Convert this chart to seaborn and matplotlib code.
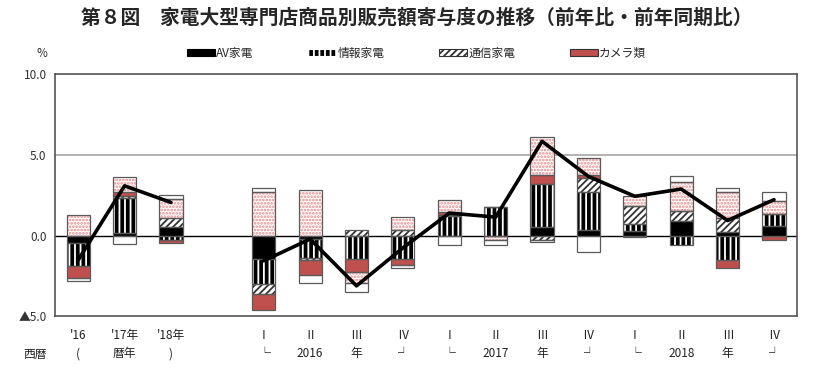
#!/usr/bin/env python3

import numpy as np
import pandas as pd
import seaborn as sns
from matplotlib import pyplot as plt
from matplotlib.patches import Patch


# slot 3 is the gap between the annual and quarterly groups
slots = [0, 1, 2, 4, 5, 6, 7, 8, 9, 10, 11, 12, 13, 14, 15]
row1_labels = ["'16", "'17年", "'18年", "",
               "Ⅰ", "Ⅱ", "Ⅲ", "Ⅳ", "Ⅰ", "Ⅱ", "Ⅲ", "Ⅳ", "Ⅰ", "Ⅱ", "Ⅲ", "Ⅳ"]
row2_labels = ["(", "暦年", ")", "",
               "└", "2016", "年", "┘", "└", "2017", "年", "┘", "└", "2018", "年", "┘"]

av = [-0.45, 0.2, 0.52, -1.45, -0.2, 0.0, 0.0, 0.0, 0.0, 0.52, 0.37, 0.31, 0.93, 0.25, 0.62]
info = [-1.39, 2.14, -0.28, -1.55, -1.15, -1.45, -1.45, 1.2, 1.78, 2.71, 2.34, 0.41, -0.58, -1.49, 0.73]
comm = [0.0, 0.1, 0.58, -0.62, -0.14, 0.37, 0.35, 0.12, 0.0, -0.25, 0.87, 1.1, 0.62, 0.83, 0.0]
camera = [-0.79, 0.25, -0.17, -0.98, -0.95, -0.79, -0.37, 0.13, 0.0, 0.52, 0.17, 0.0, 0.0, -0.5, -0.25]
living = [1.26, 0.97, 1.18, 2.69, 2.86, -0.7, 0.79, 0.75, -0.25, 2.38, 1.05, 0.66, 1.76, 1.61, 0.78]
other = [-0.17, -0.48, 0.22, 0.25, -0.46, -0.54, -0.15, -0.56, -0.31, -0.15, -1.01, -0.1, 0.37, 0.25, 0.56]
total = [-1.5, 3.1, 2.07, -1.55, -0.2, -3.1, -0.75, 1.41, 1.16, 5.86, 3.68, 2.45, 2.9, 0.95, 2.24]

series = [
    # name, values, face, hatch, hatch colour
    ("AV家電", av, "black", "", "black"),
    ("情報家電", info, "black", "|||", "white"),
    ("通信家電", comm, "white", "/////", "#333333"),
    ("カメラ類", camera, "#c0504d", "", "#c0504d"),
    ("生活家電", living, "white", ".....", "#eb8a8a"),
    ("その他", other, "white", "", "white"),
]

title = "第８図　家電大型専門店商品別販売額寄与度の推移（前年比・前年同期比）"
fonts = ["Noto Sans CJK JP", "DejaVu Sans"]


def draw_stacks(ax, width=0.5):
    pos_base = np.zeros(len(slots))
    neg_base = np.zeros(len(slots))
    for name, vals, face, hatch, hcol in series:
        vals = np.array(vals)
        bottom = np.where(vals >= 0, pos_base, neg_base)
        ax.bar(slots, vals, width=width, bottom=bottom, color=face,
               hatch=hatch, edgecolor=hcol, linewidth=0, zorder=2)
        ax.bar(slots, vals, width=width, bottom=bottom, fill=False,
               edgecolor="#5a5a5a", linewidth=0.9, zorder=3)
        pos_base += np.where(vals >= 0, vals, 0)
        neg_base += np.where(vals < 0, vals, 0)


def main():
    sns.set_theme(style="white")
    plt.rcParams["font.family"] = fonts
    plt.rcParams["hatch.linewidth"] = 1.3

    fig = plt.figure(figsize=(8.33, 3.82), dpi=100)
    ax = fig.add_axes([0.066, 0.1715, 0.891, 0.6335])

    ax.axhline(5, color="#a6a6a6", lw=1.2, zorder=1)
    ax.axhline(0, color="black", lw=1.0, zorder=1)
    draw_stacks(ax)

    df = pd.DataFrame({"slot": slots, "total": total})
    sns.lineplot(data=df[df.slot < 3], x="slot", y="total", color="black",
                 lw=2.6, ax=ax, zorder=4)
    sns.lineplot(data=df[df.slot > 3], x="slot", y="total", color="black",
                 lw=2.6, ax=ax, zorder=4)

    ax.set_xlim(-0.5, 15.5)
    ax.set_ylim(-5, 10)
    ax.set_yticks([-5, 0, 5, 10])
    ax.set_yticklabels(["▲5.0", "0.0", "5.0", "10.0"], fontsize=8.5, color="#333333")
    ax.set_xticks(range(16))
    ax.set_xticklabels(row1_labels, fontsize=8.5, color="#222222")
    ax.tick_params(axis="both", length=0, pad=6)
    ax.tick_params(axis="x", pad=9)
    ax.set_xlabel("")
    ax.set_ylabel("")
    for x, lab in enumerate(row2_labels):
        ax.text(x, -0.155, lab, transform=ax.get_xaxis_transform(),
                ha="center", va="center", fontsize=8.5, color="#222222")
    for side in ["left", "right", "top", "bottom"]:
        ax.spines[side].set_color("#555555")
        ax.spines[side].set_linewidth(1.2)

    fig.text(0.5, 0.953, title, ha="center", va="center", fontsize=14.2,
             weight="bold")
    fig.text(0.05, 0.861, "%", ha="center", va="center", fontsize=8.5,
             color="#333333")
    fig.text(0.042, 0.073, "西暦", ha="center", va="center", fontsize=8.5,
             color="#222222")

    handles = []
    for name, vals, face, hatch, hcol in series[:4]:
        edge = "#333333" if name == "カメラ類" else hcol
        handles.append(Patch(facecolor=face, hatch=hatch, edgecolor=edge,
                             linewidth=0.8, label=name))
    fig.legend(handles=handles, ncol=4, loc="center", bbox_to_anchor=(0.5, 0.861),
               frameon=False, fontsize=8.5, handlelength=2.4, handleheight=0.55,
               handletextpad=0.1, columnspacing=4.6)

    fig.savefig("out.png", dpi=100)


if __name__ == "__main__":
    main()
